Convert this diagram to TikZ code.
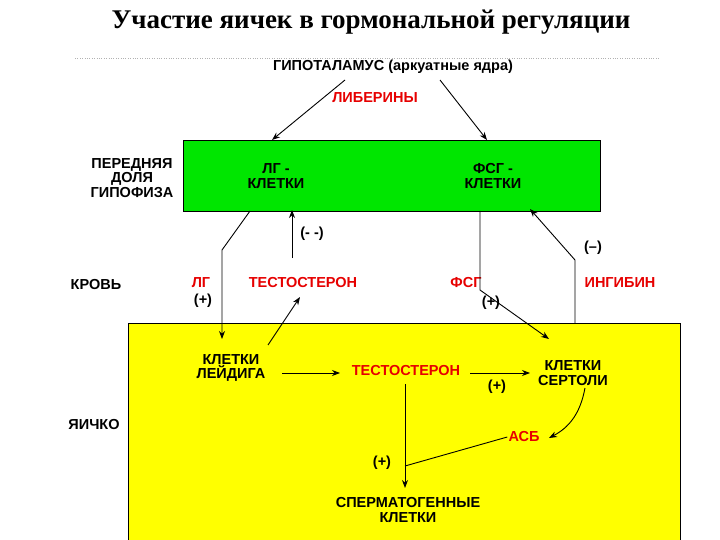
\documentclass[tikz,border=0pt]{standalone}
\usepackage{fontspec}
\setmainfont{Liberation Sans}
\newfontfamily\titlefont{Liberation Serif}
\usetikzlibrary{arrows.meta}
\definecolor{gr}{RGB}{0,230,0}
\definecolor{yl}{RGB}{255,255,0}
\definecolor{rd}{RGB}{230,0,0}
\tikzset{x=1pt,y=-1pt,
 lb/.style={font=\bfseries\fontsize{14.5}{14.5}\selectfont,align=center,inner sep=1pt},
 rl/.style={lb,text=rd},
 ar/.style={-{Stealth[length=8pt,width=6pt]},line width=0.9pt}}
\begin{document}
\begin{tikzpicture}
\useasboundingbox (0,0) rectangle (720,540);
\node[font=\titlefont\bfseries\fontsize{27}{30}\selectfont] (t) at (371,22) {Участие яичек в гормональной регуляции};
\draw[gray!60,dotted] (75,58) -- (660,58);
\node[draw,fill=gr,minimum width=417,minimum height=71,anchor=north west,inner sep=0] (g) at (183,140) {};
\node[draw,fill=yl,minimum width=552,minimum height=220,anchor=north west,inner sep=0] (y) at (128,323) {};
\node[lb] (hyp) at (393,67) {ГИПОТАЛАМУС (аркуатные ядра)};
\node[rl] (lib) at (375,98) {ЛИБЕРИНЫ};
\node[lb] (lgc) at (276,176) {ЛГ -\\КЛЕТКИ};
\node[lb] (fsc) at (493,176) {ФСГ -\\КЛЕТКИ};
\node[lb] (pd) at (132,178) {ПЕРЕДНЯЯ\\ДОЛЯ\\ГИПОФИЗА};
\node[lb] (kr) at (96,285) {КРОВЬ};
\node[rl] (lg) at (201,283) {ЛГ};
\node[lb] (p1) at (203,301) {(+)};
\node[rl] (ts1) at (303,283) {ТЕСТОСТЕРОН};
\node[lb] (m1) at (312,234) {(- -)};
\node[rl] (fsg) at (466,283) {ФСГ};
\node[lb] (p2) at (491,303) {(+)};
\node[rl] (ing) at (620,283) {ИНГИБИН};
\node[lb] (m2) at (593,248) {(--)};
\node[lb] (ley) at (231,368) {КЛЕТКИ\\ЛЕЙДИГА};
\node[rl] (ts2) at (406,371) {ТЕСТОСТЕРОН};
\node[lb] (p3) at (497,387) {(+)};
\node[lb] (ser) at (573,373) {КЛЕТКИ\\СЕРТОЛИ};
\node[lb] (ya) at (94,425) {ЯИЧКО};
\node[rl] (asb) at (524,437) {АСБ};
\node[lb] (p4) at (382,463) {(+)};
\node[lb] (sp) at (408,510) {СПЕРМАТОГЕННЫЕ\\КЛЕТКИ};
\coordinate (c1) at (222,250);
\coordinate (c2) at (480,290);
\coordinate (c3) at (575,260);
\coordinate (c4) at (405,466);
\draw[ar] (345,80) -- (272,140);
\draw[ar] (440,80) -- (487,140);
\draw[ar] (250,211) -- (c1) -- (222,339);
\draw[ar] (268,345) -- (300,297);
\draw[ar] (292,258) -- (292,210);
\draw[ar] (480,211) -- (c2) -- (549,339);
\draw[ar] (575,323) -- (c3) -- (530,209);
\draw[ar] (282,373) -- (340,373);
\draw[ar] (470,373) -- (530,373);
\draw[ar] (585,388) .. controls (580,415) and (568,428) .. (549,438);
\draw[line width=0.9pt] (asb.west) -- (c4);
\draw[ar] (405,384) -- (405,488);
\end{tikzpicture}
\end{document}
